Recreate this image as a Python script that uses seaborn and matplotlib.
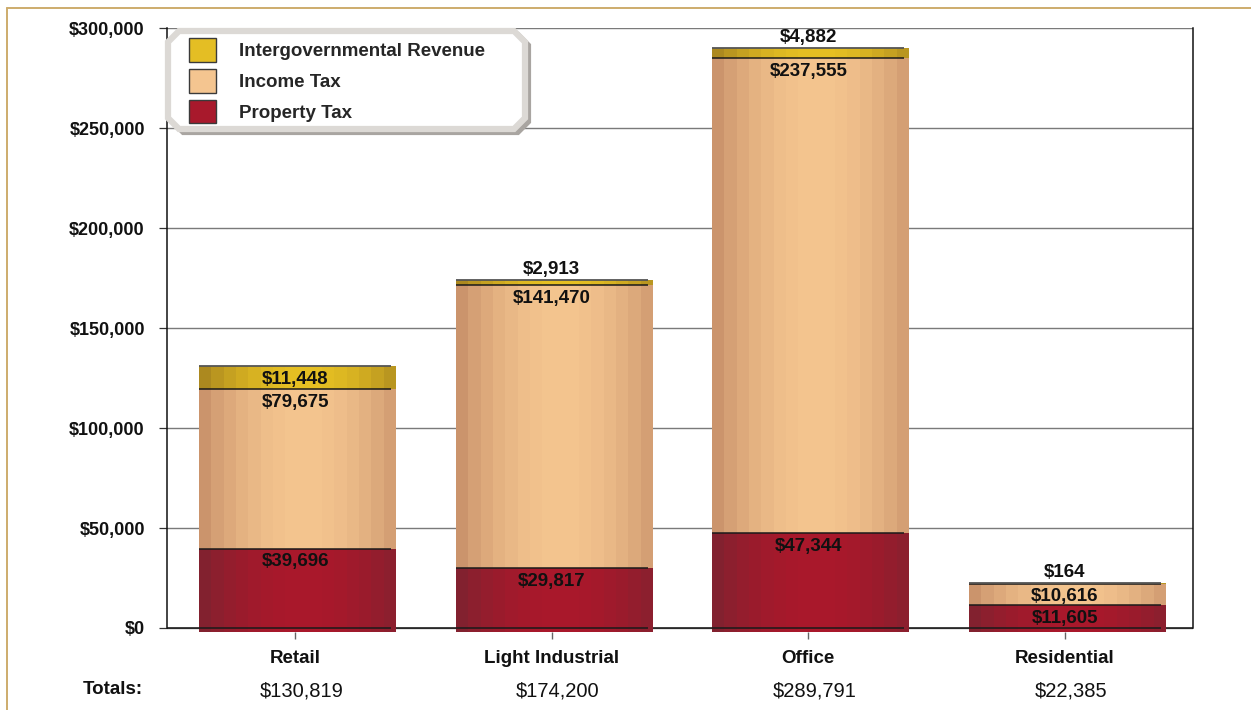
import numpy as np
import pandas as pd
import matplotlib
matplotlib.use("Agg")
import matplotlib.pyplot as plt
import seaborn as sns
from matplotlib.patches import Patch, Polygon
from matplotlib.lines import Line2D
from matplotlib.colors import to_rgb

# ---- data -------------------------------------------------------------
categories = ["Retail", "Light Industrial", "Office", "Residential"]
property_tax = [39696, 29817, 47344, 11605]
income_tax = [79675, 141470, 237555, 10616]
intergov_revenue = [11448, 2913, 4882, 164]
totals = [130819, 174200, 289791, 22385]
legend_order = ["Intergovernmental Revenue", "Income Tax", "Property Tax"]
y_ticks = [0, 50000, 100000, 150000, 200000, 250000, 300000]

# cylinder shading: (edge colour, centre colour) per series
shades = {
    "Property Tax": ("#7c2330", "#aa182b"),
    "Income Tax": ("#c48c67", "#f4c58f"),
    "Intergovernmental Revenue": ("#a2801f", "#e6c023"),
}
swatch = {
    "Property Tax": "#a8192c",
    "Income Tax": "#f4c590",
    "Intergovernmental Revenue": "#e4be24",
}

sns.set_theme(style="white")
plt.rcParams["font.family"] = ["Liberation Sans", "DejaVu Sans"]

W, H = 1251, 710
fig = plt.figure(figsize=(W / 100, H / 100), dpi=100)
ax = fig.add_axes([167 / W, 1 - 632 / H, (1193 - 167) / W, (632 - 28) / H])


def fx(px):
    return px / W


def fy(py):
    return 1 - py / H


Y_DEPTH = 2000      # bars drop a few pixels below the baseline
X_DEPTH = 0.016     # and stick out a little on the right
BAR_W = 0.75

df = pd.DataFrame({
    "category": categories,
    "Property Tax": property_tax,
    "Income Tax": income_tax,
    "Intergovernmental Revenue": intergov_revenue,
})
df["cum_property"] = df["Property Tax"]
df["cum_income"] = df["cum_property"] + df["Income Tax"]
df["cum_total"] = df["cum_income"] + df["Intergovernmental Revenue"]

layers = [
    ("cum_total", "Intergovernmental Revenue", 2.0),
    ("cum_income", "Income Tax", 2.1),
    ("cum_property", "Property Tax", 2.2),
]


def band_colors(edge, centre, n=16):
    e = np.array(to_rgb(edge))
    c = np.array(to_rgb(centre))
    t = (np.arange(n) + 0.5) / n
    prof = np.sin(np.pi * np.clip(t / 1.06, 0, 1)) ** 0.8
    return e[None, :] * (1 - prof[:, None]) + c[None, :] * prof[:, None]


for col, name, z in layers:
    n_before = len(ax.patches)
    sns.barplot(data=df, x="category", y=col, order=categories, color=swatch[name],
                width=BAR_W, saturation=1, ax=ax, zorder=z)
    new = ax.patches[n_before:]
    cols = band_colors(*shades[name])
    for p in new:
        x0, w, top = p.get_x(), p.get_width(), p.get_height()
        p.set_y(-Y_DEPTH)
        p.set_height(top + Y_DEPTH)
        p.set_width(w + X_DEPTH)
        p.set_facecolor("none")
        p.set_edgecolor("none")
        im = ax.imshow(cols[None, :, :], extent=(x0, x0 + w + X_DEPTH, -Y_DEPTH, top),
                       aspect="auto", interpolation="nearest", zorder=z)
        im.set_clip_path(p)

# boundary lines across each bar
for i in range(len(categories)):
    x0 = i - BAR_W / 2
    ax.hlines([0, df["cum_property"][i], df["cum_income"][i]], x0, x0 + BAR_W,
              colors="#1a1a1a", linewidth=1.1, zorder=3)
    ax.hlines(df["cum_total"][i], x0, x0 + BAR_W, colors="#555555", linewidth=1.3, zorder=3)

# value labels
lab_kw = dict(ha="center", fontsize=13.5, fontweight="bold", color="#111111", zorder=5)
for i in range(len(categories)):
    bottoms = [0, df["cum_property"][i], df["cum_income"][i]]
    values = [property_tax[i], income_tax[i], intergov_revenue[i]]
    for b, v in zip(bottoms, values):
        top = b + v
        seg_px = v / 300000 * 600
        if seg_px < 18:
            ax.annotate(f"${v:,}", (i, top), xytext=(0, 1.5), textcoords="offset points",
                        va="bottom", **lab_kw)
        else:
            ax.annotate(f"${v:,}", (i, top), xytext=(0, -3.5), textcoords="offset points",
                        va="top", **lab_kw)

ax.set_xlim(-0.5, len(categories) - 0.5)
ax.set_ylim(-Y_DEPTH, 300000)
ax.set_xlabel("")
ax.set_ylabel("")

# axes styling
ax.set_yticks(y_ticks)
ax.set_yticklabels([f"${v:,}" for v in y_ticks], fontsize=13, fontweight="bold")
ax.set_xticks(range(len(categories)))
ax.set_xticklabels(categories, fontsize=13.5, fontweight="bold")
ax.tick_params(axis="y", which="both", left=True, length=6, width=0.9, color="#333333",
               pad=10, labelcolor="#111111")
ax.tick_params(axis="x", which="both", bottom=True, length=5, width=1.0, color="#666666",
               pad=8, labelcolor="#111111")
ax.set_axisbelow(True)
ax.yaxis.grid(True, color="#7a7a7a", linewidth=1.0)
ax.xaxis.grid(False)
for s in ["left", "right"]:
    ax.spines[s].set_visible(True)
    ax.spines[s].set_color("#111111")
    ax.spines[s].set_linewidth(1.1)
    ax.spines[s].set_bounds(0, 300000)
ax.spines["top"].set_visible(False)
ax.spines["bottom"].set_visible(False)
ax.axhline(0, color="#111111", linewidth=1.1, zorder=1)

# totals row
fig.text(fx(113), fy(689), "Totals:", ha="center", va="center", fontsize=13.5,
         fontweight="bold", color="#111111")
for i, t in enumerate(totals):
    fig.text(fx(167 + (i + 0.5) * 256.5 + 6), fy(691), f"${t:,}", ha="center",
             va="center", fontsize=14.5, color="#111111")


# legend box with cut corners and a soft drop edge
def chamfer_box(x0, y0, x1, y1, c):
    pts = [(x0 + c, y0), (x1 - c, y0), (x1, y0 + c), (x1, y1 - c),
           (x1 - c, y1), (x0 + c, y1), (x0, y1 - c), (x0, y0 + c)]
    return [(fx(px), fy(py)) for px, py in pts]


fig.add_artist(Polygon(chamfer_box(172, 34, 529, 133, 11), closed=True,
                       facecolor="#a9a5a1", edgecolor="#a9a5a1", linewidth=3,
                       transform=fig.transFigure, zorder=2))
fig.add_artist(Polygon(chamfer_box(168, 31, 525, 129, 11), closed=True,
                       facecolor="white", edgecolor="#dcd9d5", linewidth=4.5,
                       transform=fig.transFigure, zorder=3))

handles = [Patch(facecolor=swatch[n], edgecolor="#3a3a3a", linewidth=1.0)
           for n in legend_order]
leg = fig.legend(handles, legend_order, loc="upper left",
                 bbox_to_anchor=(fx(189), fy(38)), bbox_transform=fig.transFigure,
                 prop={"weight": "bold", "size": 13.5},
                 handlelength=1.42, handleheight=1.58, handletextpad=1.25, labelspacing=0.37,
                 borderpad=0.0, borderaxespad=0.0, frameon=False)
leg.set_zorder(6)

# outer tan frame
fig.add_artist(Line2D([fx(7), 1.0], [fy(8), fy(8)], color="#cdac6c", linewidth=1.4,
                      transform=fig.transFigure))
fig.add_artist(Line2D([fx(7), fx(7)], [0.0, fy(8)], color="#cdac6c", linewidth=1.4,
                      transform=fig.transFigure))

fig.savefig("out.png", dpi=100)
